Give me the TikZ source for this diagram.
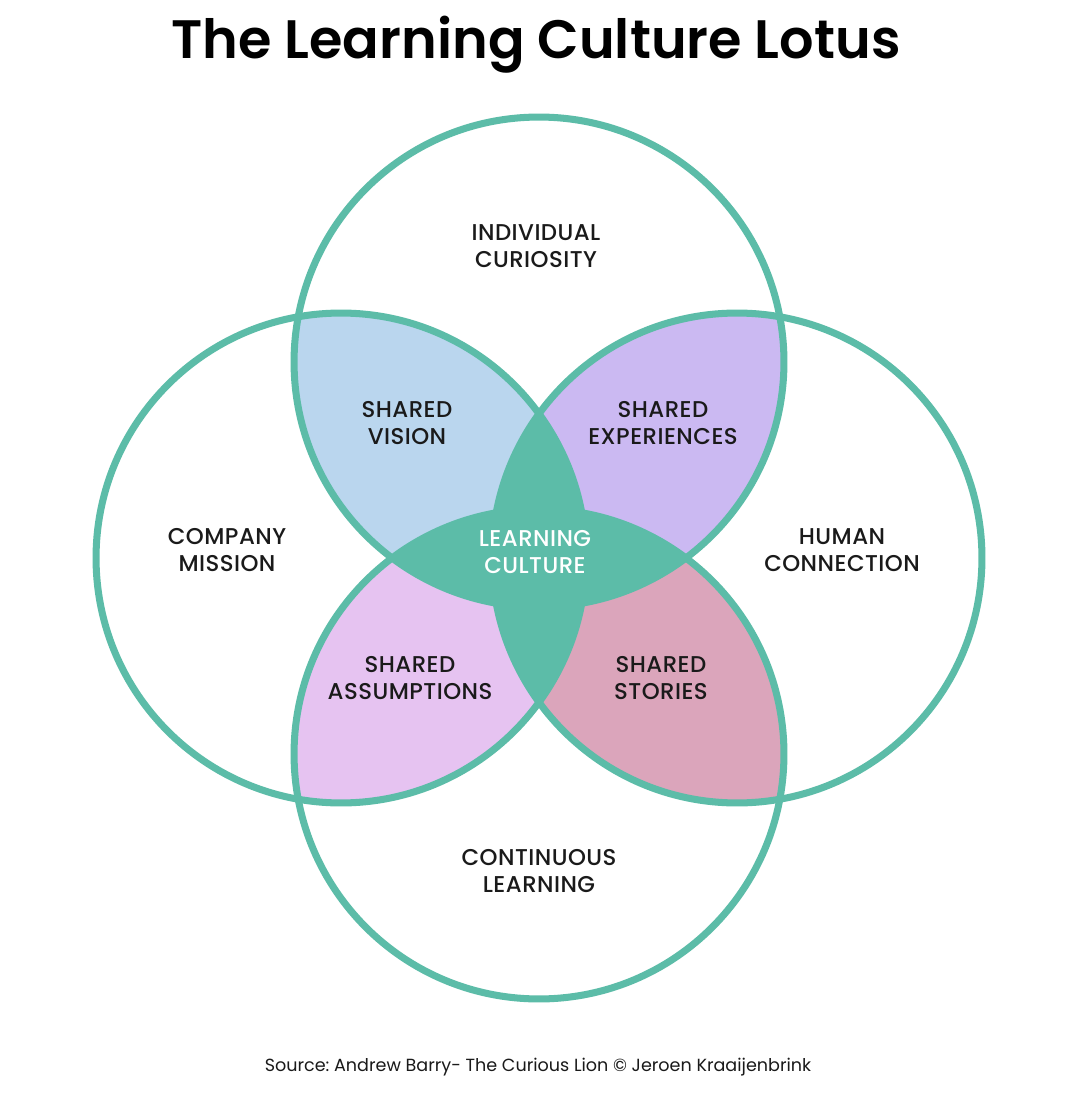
\documentclass[tikz,border=0pt]{standalone}
\usepackage{fontspec}
\setmainfont{Poppins}
\newfontfamily\lotusmed{Poppins Medium}[LetterSpace=2]
\newfontfamily\lotussemi{Poppins SemiBold}
\usepackage{xcolor}
\definecolor{petalline}{HTML}{5CBCA8}
\definecolor{ink}{HTML}{1A1A1A}
\definecolor{vision}{HTML}{BAD6EE}
\definecolor{experience}{HTML}{CBB9F2}
\definecolor{assumption}{HTML}{E6C3F1}
\definecolor{story}{HTML}{DBA5BB}
\usepackage{tikz}
\usetikzlibrary{positioning}
\frenchspacing
\tikzset{
  ring/.style={draw=petalline, line width=4pt},
  lotustext/.style={font=\lotusmed\fontsize{13}{15.3}\selectfont, text=ink, align=center, inner sep=0pt},
  coretext/.style={lotustext, text=white},
  titletext/.style={font=\lotussemi\fontsize{30.8}{36}\selectfont, text=black, inner sep=0pt},
  sourcetext/.style={font=\fontsize{10}{12}\selectfont, text=ink, inner sep=0pt},
}
\def\rad{4.9cm}

\begin{document}
\begin{tikzpicture}[x=0.02cm, y=-0.02cm]
  \fill[white] (0,0) rectangle (1080,1094);
  \useasboundingbox (0,0) rectangle (1080,1094);

  \coordinate (ctop) at (539,362);
  \coordinate (cbot) at (539,754);
  \coordinate (cleft) at (341,558);
  \coordinate (cright) at (737,558);

  % two-circle petals
  \begin{scope}\clip (ctop) circle (\rad); \fill[vision] (cleft) circle (\rad);\end{scope}
  \begin{scope}\clip (ctop) circle (\rad); \fill[experience] (cright) circle (\rad);\end{scope}
  \begin{scope}\clip (cbot) circle (\rad); \fill[assumption] (cleft) circle (\rad);\end{scope}
  \begin{scope}\clip (cbot) circle (\rad); \fill[story] (cright) circle (\rad);\end{scope}
  % core
  \begin{scope}\clip (cleft) circle (\rad); \fill[petalline] (cright) circle (\rad);\end{scope}
  \begin{scope}\clip (ctop) circle (\rad); \fill[petalline] (cbot) circle (\rad);\end{scope}

  \foreach \c in {ctop, cbot, cleft, cright} \draw[ring] (\c) circle (\rad);

  \node[titletext] (title) at (536,45) {The Learning Culture Lotus};

  \node[lotustext] (curiosity) at (536,246) {INDIVIDUAL\\CURIOSITY};
  \node[lotustext] (mission) at (227,550) {COMPANY\\MISSION};
  \node[lotustext] (connection) at (842,550) {HUMAN\\CONNECTION};
  \node[lotustext] (continuous) at (539,871) {CONTINUOUS\\LEARNING};

  \node[lotustext] (svision) at (407,423) {SHARED\\VISION};
  \node[lotustext] (sexperiences) at (663,423) {SHARED\\EXPERIENCES};
  \node[lotustext] (sassumptions) at (410,678) {SHARED\\ASSUMPTIONS};
  \node[lotustext] (sstories) at (661,678) {SHARED\\STORIES};
  \node[coretext] (core) at (535,552) {LEARNING\\CULTURE};

  \node[sourcetext] (source) at (538,1067) {Source: Andrew Barry- The Curious Lion © Jeroen Kraaijenbrink};
\end{tikzpicture}
\end{document}
